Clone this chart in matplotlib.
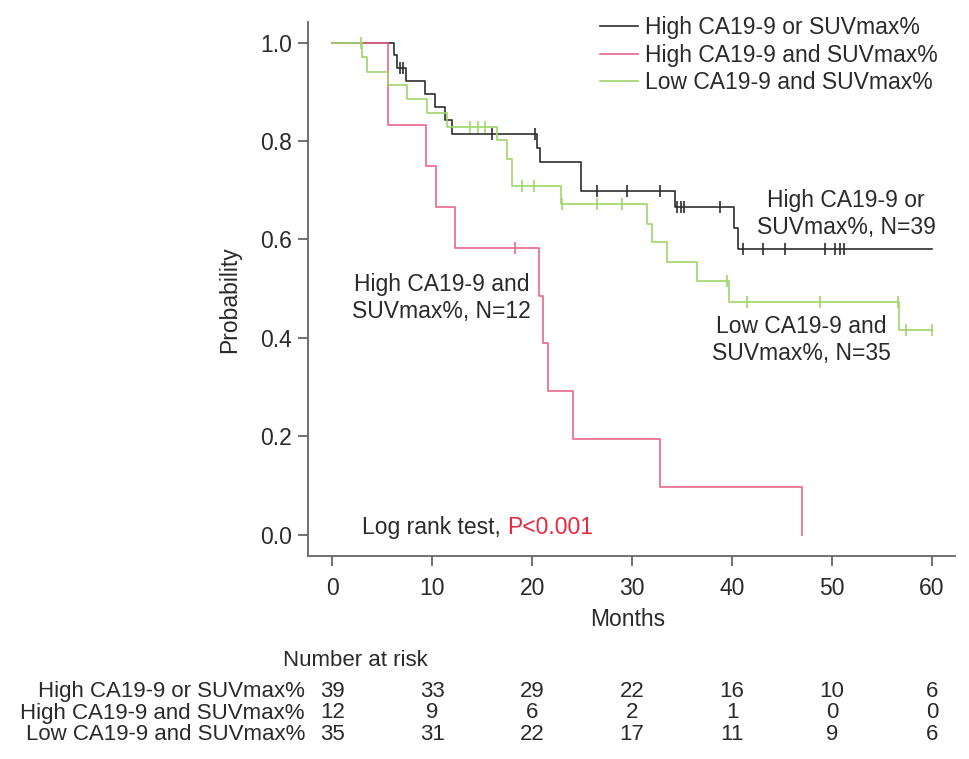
import matplotlib.pyplot as plt
import matplotlib.transforms as mtransforms

plt.rcParams['font.family'] = ['Liberation Sans', 'DejaVu Sans']

# Kaplan-Meier steps (month, survival after the step)
or_times = [0, 6.2, 6.5, 7.4, 9.3, 10.3, 11.3, 12.0, 20.5, 20.8, 24.9, 34.3, 40.2, 40.6, 60]
or_surv = [1.0, 0.974, 0.949, 0.923, 0.896, 0.869, 0.842, 0.815, 0.786, 0.757, 0.699, 0.666, 0.624, 0.581, 0.581]
or_cens = [6.8, 7.1, 16.0, 20.3, 26.5, 29.5, 32.8, 34.5, 34.9, 35.2, 38.8, 41.1, 43.1, 45.3, 49.3, 50.3, 50.8, 51.2]

and_times = [0, 5.6, 9.4, 10.4, 12.3, 20.7, 21.1, 21.6, 24.1, 32.8, 47.0]
and_surv = [1.0, 0.833, 0.75, 0.667, 0.583, 0.486, 0.389, 0.292, 0.194, 0.097, 0.0]
and_cens = [18.3]

low_times = [0, 3.0, 3.5, 5.6, 7.5, 9.5, 11.5, 16.5, 17.5, 18.0, 22.9, 31.5, 32.0, 33.5, 36.5, 39.7, 56.7, 60]
low_surv = [1.0, 0.971, 0.941, 0.914, 0.886, 0.856, 0.828, 0.802, 0.763, 0.708, 0.673, 0.632, 0.594, 0.554, 0.516, 0.474, 0.416, 0.416]
low_cens = [2.9, 13.8, 14.6, 15.3, 19.0, 20.2, 23.0, 26.5, 29.0, 39.5, 41.5, 48.8, 56.6, 57.4, 60.0]

groups = ['High CA19-9 or SUVmax%', 'High CA19-9 and SUVmax%', 'Low CA19-9 and SUVmax%']
colors = ['#2e2e2e', '#e8668a', '#9fd46a']

risk_months = [0, 10, 20, 30, 40, 50, 60]
risk_or = [39, 33, 29, 22, 16, 10, 6]
risk_and = [12, 9, 6, 2, 1, 0, 0]
risk_low = [35, 31, 22, 17, 11, 9, 6]

fs = 16.5
fs_tab = 16
txt = '#2a2a2a'
spine = '#666666'

fig = plt.figure(figsize=(9.69, 7.59), dpi=100)
ax = fig.add_axes([0.3182, 0.2675, 0.6673, 0.7036])

series = [(or_times, or_surv, or_cens), (and_times, and_surv, and_cens), (low_times, low_surv, low_cens)]
for (t, s, c), name, col in zip(series, groups, colors):
    ax.plot(t, s, drawstyle='steps-post', color=col, lw=1.2, label=name)
    # censor marks sit on the curve level at that time
    cy = []
    for ct in c:
        lvl = s[0]
        for tt, ss in zip(t, s):
            if tt <= ct:
                lvl = ss
        cy.append(lvl)
    ax.plot(c, cy, ls='none', marker='|', ms=9, mew=1.2, color=col)

ax.set_xlim(-2.4, 62.3)
ax.set_ylim(-0.043, 1.042)
ax.set_xticks(risk_months)
ax.set_yticks([0.0, 0.2, 0.4, 0.6, 0.8, 1.0])
ax.set_yticklabels(['0.0', '0.2', '0.4', '0.6', '0.8', '1.0'])
for side in ['top', 'right']:
    ax.spines[side].set_visible(False)
for side in ['left', 'bottom']:
    ax.spines[side].set_color(spine)
    ax.spines[side].set_linewidth(1.3)
ax.tick_params(axis='both', direction='out', length=7, width=1.3, color=spine,
               labelsize=fs, labelcolor=txt)
ax.tick_params(axis='x', pad=8)
ax.tick_params(axis='y', pad=5)

ax.set_xlabel('Months', fontsize=fs, color=txt)
ax.xaxis.set_label_coords(0.494, -0.097)
ax.set_ylabel('Probability', fontsize=fs, color=txt)
ax.yaxis.set_label_coords(-0.104, 0.48)

# curve labels
ax.text(51.4, 0.652, 'High CA19-9 or\nSUVmax%, N=39', ha='center', va='center', fontsize=fs, color=txt)
ax.text(10.9, 0.481, 'High CA19-9 and\nSUVmax%, N=12', ha='center', va='center', fontsize=fs, color=txt)
ax.text(46.9, 0.396, 'Low CA19-9 and\nSUVmax%, N=35', ha='center', va='center', fontsize=fs, color=txt)

t1 = ax.text(3.0, 0.014, 'Log rank test, ', ha='left', va='center', fontsize=fs, color=txt)
ax.annotate('P<0.001', xy=(1, 0), xycoords=t1, ha='left', va='bottom', fontsize=fs, color='#e8283c')

fig.legend(loc='upper left', bbox_to_anchor=(600 / 969, 1 - 16 / 759), frameon=False,
           fontsize=fs, handlelength=1.65, handletextpad=0.3, labelspacing=0.2,
           borderpad=0, borderaxespad=0, labelcolor=txt)

# number at risk table
trans = mtransforms.blended_transform_factory(ax.transData, fig.transFigure)
fig.text(283 / 969, 1 - 660 / 759, 'Number at risk', ha='left', va='center', fontsize=fs_tab, color=txt)
rows_y = [1 - 691.5 / 759, 1 - 713 / 759, 1 - 734.5 / 759]
for name, counts, y in zip(groups, [risk_or, risk_and, risk_low], rows_y):
    fig.text(305 / 969, y, name, ha='right', va='center', fontsize=fs_tab, color=txt)
    for m, n in zip(risk_months, counts):
        fig.text(m, y, str(n), transform=trans, ha='center', va='center', fontsize=fs_tab, color=txt)

fig.savefig('out.png', dpi=100)
